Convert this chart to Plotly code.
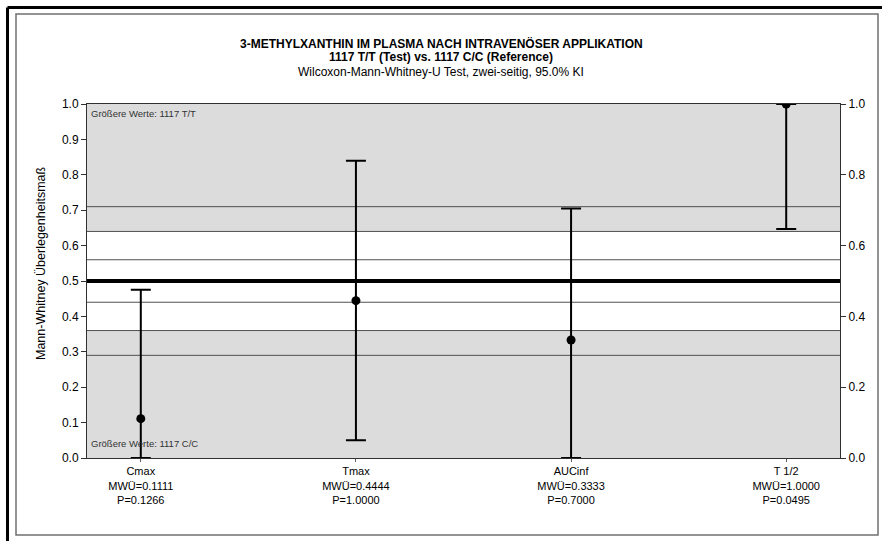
import plotly.graph_objects as go

# Mann-Whitney superiority measure per parameter with 95% CI
categories = ["Cmax", "Tmax", "AUCinf", "T 1/2"]
mwu = [0.1111, 0.4444, 0.3333, 1.0000]
p_values = [0.1266, 1.0000, 0.7000, 0.0495]
ci_lower = [0.0, 0.05, 0.0, 0.647]
ci_upper = [0.475, 0.84, 0.705, 1.0]

# reference bands and lines of the superiority scale
gray_bands = [(0.0, 0.36), (0.64, 1.0)]
thin_lines = [0.29, 0.36, 0.44, 0.56, 0.64, 0.71]
null_line = 0.5

left_ticks = [0.0, 0.1, 0.2, 0.3, 0.4, 0.5, 0.6, 0.7, 0.8, 0.9, 1.0]
right_ticks = [0.0, 0.2, 0.4, 0.6, 0.8, 1.0]

W, H = 882, 541
L, R, T, B = 87, 42, 104, 83
FONT = "Liberation Sans, Arial, sans-serif"

xpos = list(range(len(categories)))
tick_text = [f"{c}<br>MWÜ={m:.4f}<br>P={p:.4f}" for c, m, p in zip(categories, mwu, p_values)]

fig = go.Figure()
fig.add_trace(go.Scatter(
    x=xpos, y=mwu, mode="markers",
    marker=dict(color="black", size=9),
    error_y=dict(type="data", symmetric=False,
                 array=[u - m for u, m in zip(ci_upper, mwu)],
                 arrayminus=[m - l for m, l in zip(mwu, ci_lower)],
                 color="black", thickness=2, width=10),
    showlegend=False, hoverinfo="skip", cliponaxis=True,
))
# anchor trace for the right-hand axis
fig.add_trace(go.Scatter(x=[xpos[0]], y=[0], yaxis="y2", mode="markers",
                         marker=dict(opacity=0), showlegend=False, hoverinfo="skip"))

shapes = []
for lo, hi in gray_bands:
    shapes.append(dict(type="rect", xref="paper", yref="y", x0=0, x1=1, y0=lo, y1=hi,
                       fillcolor="#dcdcdc", line=dict(width=0), layer="below"))
for yv in thin_lines:
    shapes.append(dict(type="line", xref="paper", yref="y", x0=0, x1=1, y0=yv, y1=yv,
                       line=dict(color="#505050", width=1), layer="below"))
shapes.append(dict(type="line", xref="paper", yref="y", x0=0, x1=1, y0=null_line, y1=null_line,
                   line=dict(color="black", width=4), layer="below"))

# page frame: black outer edge and gray inner box
def px_x(px):
    return (px - L) / (W - L - R)

def px_y(py):
    return (H - B - py) / (H - T - B)

shapes.append(dict(type="line", xref="paper", yref="paper",
                   x0=px_x(7.5), x1=px_x(W + 5), y0=px_y(7.5), y1=px_y(7.5),
                   line=dict(color="black", width=3)))
shapes.append(dict(type="line", xref="paper", yref="paper",
                   x0=px_x(7.5), x1=px_x(7.5), y0=px_y(7.5), y1=px_y(H + 5),
                   line=dict(color="black", width=3)))
shapes.append(dict(type="rect", xref="paper", yref="paper",
                   x0=px_x(16), x1=px_x(878), y0=px_y(14), y1=px_y(535),
                   line=dict(color="#707070", width=1.5), fillcolor="rgba(0,0,0,0)"))

annotations = [
    dict(text="<b>3-METHYLXANTHIN IM PLASMA NACH INTRAVENÖSER APPLIKATION</b>",
         x=px_x(441), y=px_y(43), font=dict(size=12)),
    dict(text="<b>1117 T/T (Test) vs. 1117 C/C (Reference)</b>",
         x=px_x(441), y=px_y(57), font=dict(size=12)),
    dict(text="Wilcoxon-Mann-Whitney-U Test, zwei-seitig, 95.0% KI",
         x=px_x(441), y=px_y(72), font=dict(size=12)),
    dict(text="Mann-Whitney Überlegenheitsmaß", textangle=-90,
         x=px_x(41), y=px_y(263), font=dict(size=12.5)),
    dict(text="Größere Werte: 1117 T/T", x=px_x(89), y=px_y(114), xanchor="left",
         font=dict(size=9.5, color="#333333")),
    dict(text="Größere Werte: 1117 C/C", x=px_x(89), y=px_y(443), xanchor="left",
         font=dict(size=9.5, color="#333333")),
]
for a in annotations:
    a.setdefault("xanchor", "center")
    a.update(xref="paper", yref="paper", yanchor="middle", showarrow=False)
    a["font"] = dict(family=FONT, color=a["font"].get("color", "black"), size=a["font"]["size"])

fig.update_layout(
    width=W, height=H,
    margin=dict(l=L, r=R, t=T, b=B),
    paper_bgcolor="white", plot_bgcolor="white",
    font=dict(family=FONT, color="black", size=12),
    shapes=shapes, annotations=annotations, showlegend=False,
    xaxis=dict(range=[-0.25, 3.25], tickvals=xpos, ticktext=tick_text,
               showgrid=False, zeroline=False, showline=True, linecolor="#303030",
               linewidth=1, mirror=True, ticks="outside", ticklen=3, tickcolor="#606060",
               tickfont=dict(size=11, family=FONT)),
    yaxis=dict(range=[0, 1], tickvals=left_ticks, tickformat=".1f",
               showgrid=False, zeroline=False, showline=True, linecolor="#303030",
               linewidth=1, ticks="outside", ticklen=5, tickcolor="#303030",
               tickfont=dict(size=12, family=FONT)),
    yaxis2=dict(range=[0, 1], tickvals=right_ticks, tickformat=".1f", overlaying="y",
                side="right", showgrid=False, zeroline=False, showline=True,
                linecolor="#303030", linewidth=1, ticks="outside", ticklen=5,
                tickcolor="#303030", tickfont=dict(size=12, family=FONT)),
)

fig.write_html("out.html")
